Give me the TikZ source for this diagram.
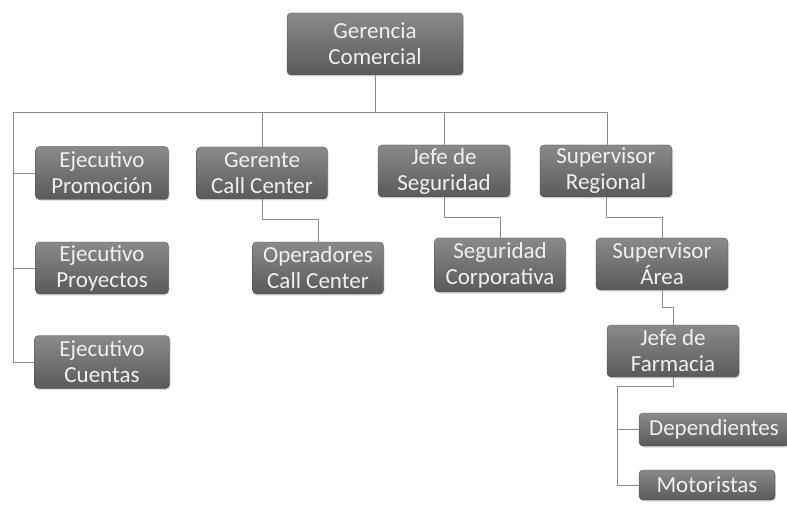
\documentclass[tikz,border=0pt]{standalone}
\usepackage{fontspec}
\setmainfont{Carlito}
\usetikzlibrary{shadows}
\definecolor{boxtop}{HTML}{8A8A8A}
\definecolor{boxbot}{HTML}{5A5A5A}
\definecolor{boxtxt}{HTML}{F0F0F0}
\definecolor{linec}{HTML}{8A8A8A}
\tikzset{
  orgbox/.style={rounded corners=4pt, top color=boxtop, bottom color=boxbot,
    draw=boxbot!80!black, line width=0.3pt, text=boxtxt, align=center,
    inner sep=0pt, font=\fontsize{23}{26}\selectfont,
    drop shadow={opacity=0.25, shadow xshift=1pt, shadow yshift=-1.5pt}},
  wire/.style={draw=linec, line width=0.9pt}
}
\begin{document}
\begin{tikzpicture}[x=1pt,y=-1pt]
\useasboundingbox (0,0) rectangle (787,505);
\fill[white] (0,0) rectangle (787,505);
% nodes
\node[orgbox, minimum width=176, minimum height=62] (gc) at (375,44) {Gerencia\\Comercial};
\node[orgbox, minimum width=133, minimum height=53] (ep) at (102,173) {Ejecutivo\\Promoción};
\node[orgbox, minimum width=133, minimum height=52] (epy) at (102,268) {Ejecutivo\\Proyectos};
\node[orgbox, minimum width=135, minimum height=53] (ec) at (102,362) {Ejecutivo\\Cuentas};
\node[orgbox, minimum width=131, minimum height=52] (gcc) at (262,173) {Gerente\\Call Center};
\node[orgbox, minimum width=131, minimum height=52] (occ) at (318,268) {Operadores\\Call Center};
\node[orgbox, minimum width=132, minimum height=52] (js) at (444,171) {Jefe de\\Seguridad};
\node[orgbox, minimum width=131, minimum height=54] (sc) at (500,265) {Seguridad\\Corporativa};
\node[orgbox, minimum width=132, minimum height=52] (sr) at (606,171) {Supervisor\\Regional};
\node[orgbox, minimum width=132, minimum height=52] (sa) at (662,264) {Supervisor\\Área};
\node[orgbox, minimum width=132, minimum height=52] (jf) at (673,351) {Jefe de\\Farmacia};
\node[orgbox, minimum width=150, minimum height=33] (dep) at (714,429.5) {Dependientes};
\node[orgbox, minimum width=136, minimum height=30] (mot) at (707,485) {Motoristas};
% coordinates
\coordinate (lb) at (13,112);
\coordinate (rb) at (607,112);
\coordinate (fb) at (617,386);
% connectors
\draw[wire] (gc.south) -- (gc.south |- lb);
\draw[wire] (lb) -- (rb) -- (sr.north -| rb);
\draw[wire] (lb) |- (ep.west);
\draw[wire] (lb) |- (epy.west);
\draw[wire] (lb) |- (ec.west);
\draw[wire] (gcc.north) -- (gcc.north |- lb);
\draw[wire] (js.north) -- (js.north |- lb);
\draw[wire] (gcc.south) -- ++(0,20) -| (occ.north);
\draw[wire] (js.south) -- ++(0,20) -| (sc.north);
\draw[wire] (sr.south) -- ++(0,20) -| (sa.north);
\draw[wire] (sa.south) -- ++(0,17) -| (jf.north);
\draw[wire] (jf.south) |- (fb) -- (fb |- mot.west) -- (mot.west);
\draw[wire] (fb |- dep.west) -- (dep.west);
\end{tikzpicture}
\end{document}
